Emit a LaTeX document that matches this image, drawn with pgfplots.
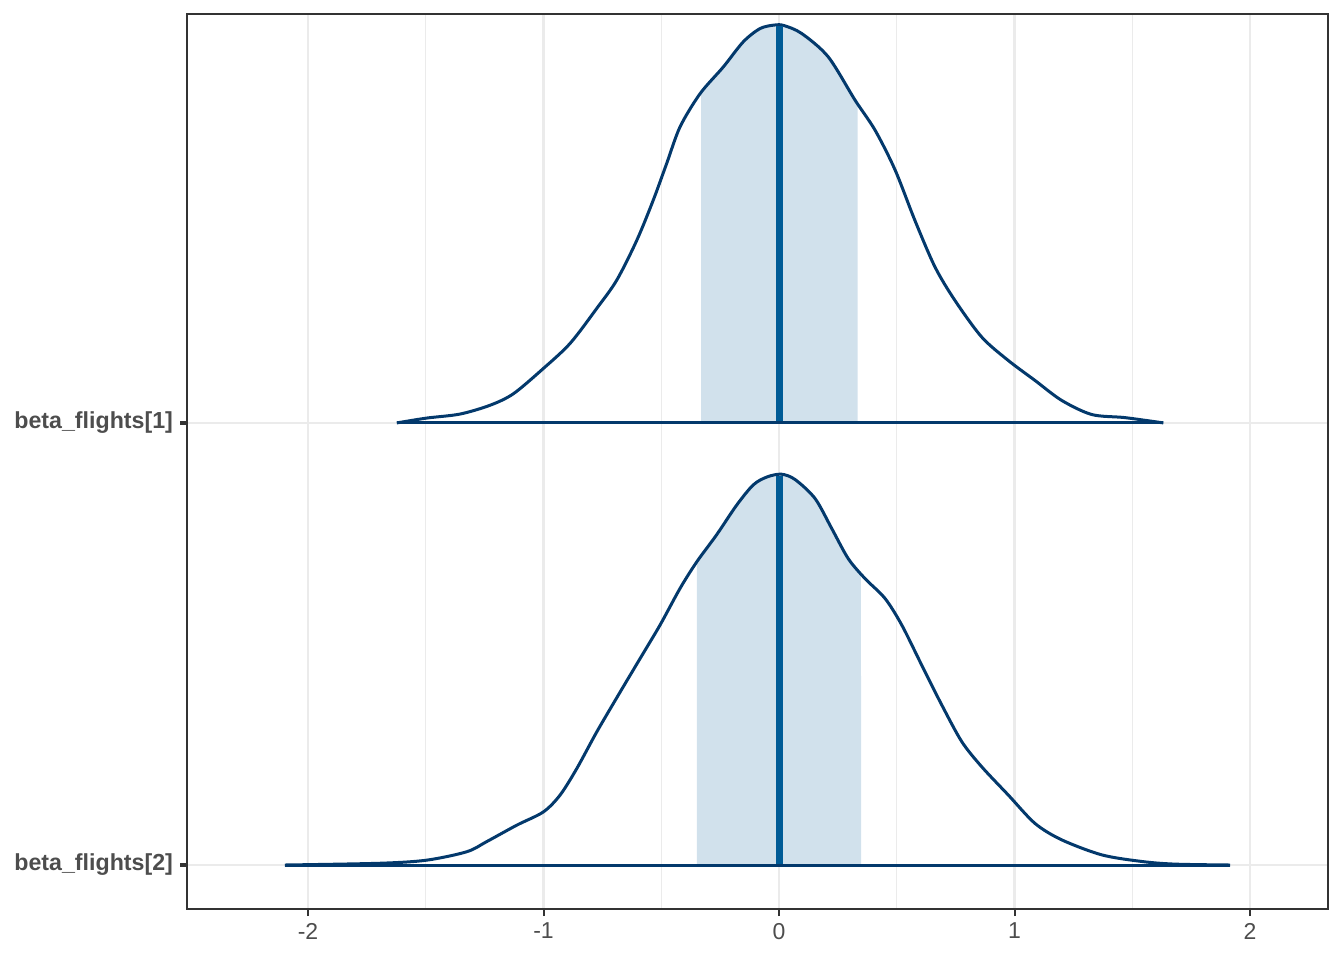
\documentclass[border=0pt]{standalone}
\usepackage{pgfplots}
\pgfplotsset{compat=1.18}
\usepgfplotslibrary{fillbetween}
\usepackage{fontspec}
\setmainfont{Liberation Sans}
\definecolor{fillc}{HTML}{D1E1EC}
\definecolor{linec}{HTML}{03396C}
\definecolor{medc}{HTML}{005B96}
\definecolor{gridc}{HTML}{EBEBEB}
\definecolor{txtc}{HTML}{4D4D4D}
\definecolor{framec}{HTML}{333333}
\begin{document}
\begin{tikzpicture}
\begin{axis}[
  at={(93.5pt,25.5pt)}, anchor=south west,
  scale only axis, width=570.5pt, height=447.5pt,
  xmin=-2.5138, xmax=2.331, ymin=-0.0995, ymax=1.925,
  xtick={-2,-1,0,1,2}, xticklabels={-2,-1,0,1,2},
  minor xtick={-1.5,-0.5,0.5,1.5},
  ytick={0,1}, yticklabels={beta\_flights[2],beta\_flights[1]},
  grid=both,
  major grid style={gridc, line width=1.3pt},
  minor grid style={gridc, line width=0.6pt},
  axis line style={framec, line width=0.7pt},
  tick align=outside, tick pos=left,
  major tick length=3.5pt, minor tick length=0pt,
  xtick style={framec, line width=1pt},
  ytick style={framec, line width=1.8pt},
  xticklabel style={font=\fontsize{11.5}{13}\selectfont, text=txtc},
  yticklabel style={font=\fontsize{11.6}{13}\selectfont\bfseries, text=txtc},
  /pgf/number format/assume math mode=true,
]
% curve 1 (beta_flights[1]), baseline y=1
\addplot[name path=c1, linec, line width=1.5pt, smooth, line join=round] coordinates {
(-1.623,1.000) (-1.496,1.011) (-1.355,1.020) (-1.227,1.040) (-1.128,1.066) (-1.001,1.123)
(-0.887,1.180) (-0.774,1.259) (-0.689,1.323) (-0.604,1.413) (-0.534,1.504) (-0.477,1.587)
(-0.420,1.670) (-0.335,1.745) (-0.237,1.805) (-0.152,1.862) (-0.081,1.892) (-0.02,1.900) (0.02,1.899)
(0.096,1.881) (0.209,1.828) (0.323,1.730) (0.408,1.662) (0.493,1.572) (0.577,1.458)
(0.662,1.353) (0.747,1.277) (0.861,1.194) (0.974,1.141) (1.087,1.096) (1.200,1.051)
(1.328,1.019) (1.469,1.012) (1.632,1.000)};
\addplot[draw=none, name path=b1] coordinates {(-2.6,1) (2.4,1)};
\addplot[fillc] fill between[of=c1 and b1, soft clip={domain=-0.331:0.334}];
\addplot[medc, line width=3.5pt] coordinates {(0,1) (0,1.897)};
\addplot[linec, line width=1.5pt] coordinates {(-1.623,1) (1.632,1)};
% curve 2 (beta_flights[2]), baseline y=0
\addplot[name path=c2, linec, line width=1.5pt, smooth, line join=round] coordinates {
(-2.098,0) (-1.694,0.004) (-1.496,0.011) (-1.326,0.030) (-1.241,0.053) (-1.114,0.090)
(-1.001,0.120) (-0.930,0.158) (-0.859,0.218) (-0.774,0.301) (-0.675,0.391) (-0.590,0.467)
(-0.505,0.543) (-0.420,0.626) (-0.349,0.686) (-0.265,0.747) (-0.180,0.814) (-0.109,0.860)
(-0.05,0.878) (0.01,0.884) (0.068,0.872) (0.153,0.829) (0.224,0.761) (0.294,0.693) (0.365,0.648)
(0.450,0.603) (0.521,0.543) (0.606,0.452) (0.691,0.362) (0.776,0.279) (0.861,0.222)
(0.974,0.158) (1.087,0.094) (1.200,0.057) (1.370,0.023) (1.540,0.008) (1.682,0.002) (1.915,0)};
\addplot[draw=none, name path=b2] coordinates {(-2.6,0) (2.4,0)};
\addplot[fillc] fill between[of=c2 and b2, soft clip={domain=-0.349:0.348}];
\addplot[medc, line width=3.5pt] coordinates {(0,0) (0,0.881)};
\addplot[linec, line width=1.5pt] coordinates {(-2.098,0) (1.915,0)};
\end{axis}
\path (0,0) rectangle (672pt,480pt);
\end{tikzpicture}
\end{document}
